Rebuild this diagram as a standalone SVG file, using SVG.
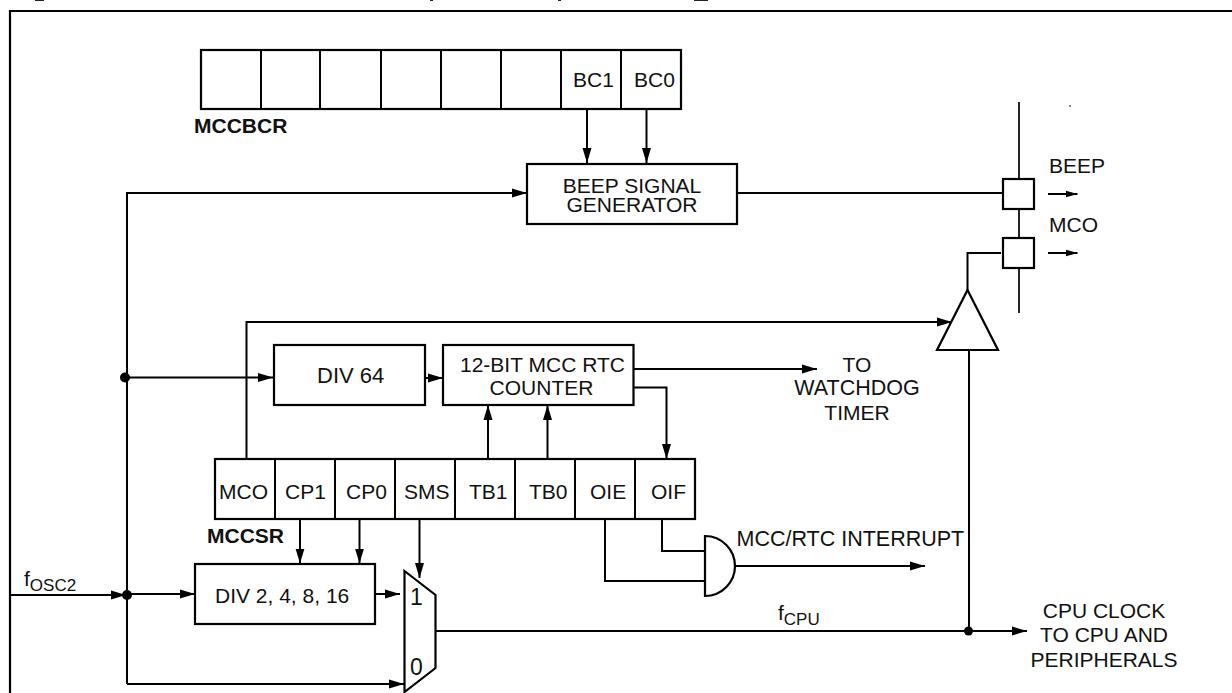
<svg xmlns="http://www.w3.org/2000/svg" width="1232" height="693" viewBox="0 0 1232 693">
<style>
text{font-family:"Liberation Sans",Arial,sans-serif;font-size:21px;fill:#111}
.m{text-anchor:middle}
.b{font-weight:bold}
.box{fill:#fff;stroke:#000;stroke-width:2.2}
.w{fill:none;stroke:#000;stroke-width:2}
.t{fill:none;stroke:#000;stroke-width:1.7}
.a{marker-end:url(#ah)}
.sm{marker-end:url(#ahs)}
.s{font-size:17px}
.big{font-size:23px}
</style>
<defs>
<marker id="ah" markerUnits="userSpaceOnUse" markerWidth="16" markerHeight="10" refX="15" refY="5" orient="auto"><path d="M0 .5L15 5L0 9.5Z" fill="#000"/></marker>
<marker id="ahs" markerUnits="userSpaceOnUse" markerWidth="12" markerHeight="8" refX="12" refY="4" orient="auto"><path d="M0 .5L12 4L0 7.5Z" fill="#000"/></marker>
</defs>
<rect width="1232" height="693" fill="#fff"/>
<path d="M35 .5H44M430 .5H433M558 .5H561M694 .5H708M1069 106H1071" fill="none" stroke="#222" stroke-width="1.2"/>
<path d="M10 693V11H1232" fill="none" stroke="#000" stroke-width="2.2"/>
<g id="connectors">
<path class="w a" d="M127 684V193H527"/>
<path class="w a" d="M125 377.500H273"/>
<path class="w a" d="M10 595H126"/>
<path class="w a" d="M127 594H195"/>
<path class="w a" d="M127 684H404"/>
<path class="w a" d="M375 594H400"/>
<path class="w a" d="M246.500 459V322H952"/>
<path class="w a" d="M425 378H443"/>
<path class="w a" d="M587 109V163"/>
<path class="w a" d="M646.500 109V163"/>
<path class="w" d="M737 193H1003"/>
<path class="w" d="M967.500 290V253H1001"/>
<path class="t" d="M1019 102V179M1019 209V238M1019 268V313"/>
<path class="w sm" d="M1048 194H1077.500"/>
<path class="w sm" d="M1048 253H1077.500"/>
<path class="w a" d="M633.500 369H817"/>
<path class="w a" d="M633.500 387.500H666.500V459"/>
<path class="w a" d="M488 459V405"/>
<path class="w a" d="M547.500 459V405"/>
<path class="w a" d="M300 519V563.500"/>
<path class="w a" d="M359.500 519V563.500"/>
<path class="w a" d="M419.500 519V578"/>
<path class="w" d="M662 519V551H705"/>
<path class="w" d="M605 519V581H705"/>
<path class="w a" d="M735 566H925"/>
<path class="w" d="M435.500 631H969"/>
<path class="w" d="M969 350V631"/>
<path class="w a" d="M969 631H1027"/>
<circle cx="125" cy="377.500" r="5"/>
<circle cx="127" cy="595" r="5"/>
<circle cx="968.500" cy="631" r="4.500"/>
<text x="24" y="586">f<tspan class="s" dy="5">OSC2</tspan></text>
<text x="778" y="620">f<tspan class="s" dy="5">CPU</tspan></text>
<text x="736.500" y="546" style="font-size:21.500px">MCC/RTC INTERRUPT</text>
<text x="1104" y="618" class="m">CPU CLOCK</text>
<text x="1104" y="642" class="m">TO CPU AND</text>
<text x="1104" y="667" class="m">PERIPHERALS</text>
<text x="1049" y="173">BEEP</text>
<text x="1049" y="232">MCO</text>
<text x="857" y="372" class="m">TO</text>
<text x="857" y="395" class="m" style="font-size:21.500px">WATCHDOG</text>
<text x="857" y="420" class="m">TIMER</text>
</g>
<g id="mccbcr">
<rect class="box" x="201" y="50" width="480" height="59"/>
<path class="w" d="M261 50V110M320 50V110M381 50V110M441 50V110M501 50V110M561 50V110M621 50V110"/>
<text x="573" y="87">BC1</text>
<text x="634" y="87">BC0</text>
<text x="194" y="133" class="b">MCCBCR</text>
</g>
<g id="beep-generator">
<rect class="box" x="527" y="164" width="210" height="60"/>
<text x="632" y="193" class="m">BEEP SIGNAL</text>
<text x="632" y="212" class="m">GENERATOR</text>
</g>
<g id="pad-beep"><rect class="box" x="1003" y="179" width="31" height="30"/></g>
<g id="pad-mco"><rect class="box" x="1003" y="238" width="31" height="30"/></g>
<g id="buffer"><path class="box" d="M967.500 290L998 350H937Z"/></g>
<g id="div64">
<rect class="box" x="274" y="345" width="151" height="60"/>
<text x="317" y="383" style="font-size:22px">DIV 64</text>
</g>
<g id="counter">
<rect class="box" x="443" y="345" width="190.500" height="60"/>
<text x="460" y="372">12-BIT MCC RTC</text>
<text x="541.500" y="395" class="m">COUNTER</text>
</g>
<g id="mccsr">
<rect class="box" x="215" y="459" width="480" height="60"/>
<path class="w" d="M275 459V519M335 459V519M395 459V519M455 459V519M515 459V519M575 459V519M635 459V519"/>
<text x="219" y="499">MCO</text>
<text x="285" y="499">CP1</text>
<text x="346" y="499">CP0</text>
<text x="404" y="499">SMS</text>
<text x="469" y="499">TB1</text>
<text x="529" y="499">TB0</text>
<text x="590" y="499">OIE</text>
<text x="651" y="499">OIF</text>
<text x="207" y="543" class="b">MCCSR</text>
</g>
<g id="div-n">
<rect class="box" x="195" y="564" width="180" height="60"/>
<text x="215" y="603">DIV 2, 4, 8, 16</text>
</g>
<g id="mux">
<path class="box" d="M404.500 571L435.500 595V668L404.500 692Z"/>
<text x="410" y="605" class="big">1</text>
<text x="410" y="675" class="big">0</text>
</g>
<g id="and-gate">
<path class="box" d="M705 536C722 536 735 550 735 566C735 582 722 596 705 596Z"/>
</g>
</svg>
